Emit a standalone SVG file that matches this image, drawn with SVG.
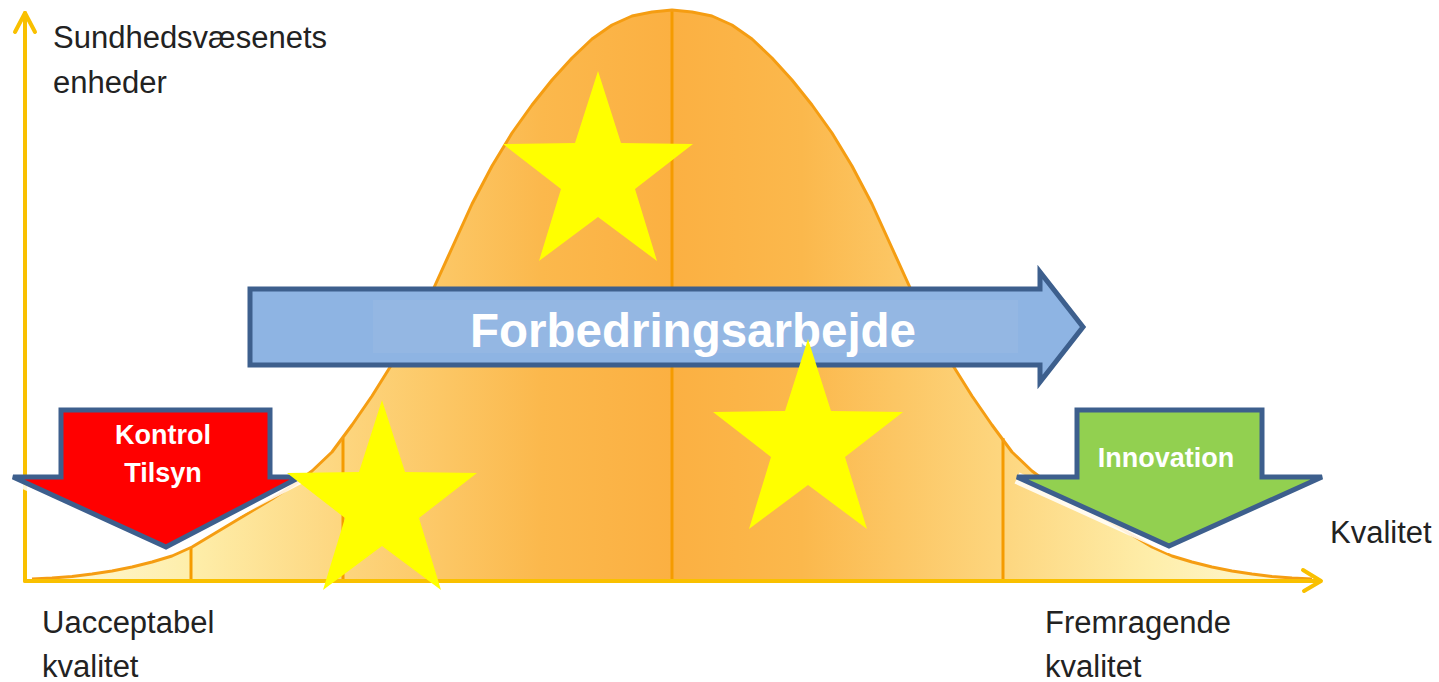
<svg xmlns="http://www.w3.org/2000/svg" width="1439" height="682" viewBox="0 0 1439 682">
  <style>
    .lbl { font-family: "Liberation Sans", Arial, sans-serif; font-size: 31px; fill: #222222; }
    .wlbl { font-family: "Liberation Sans", Arial, sans-serif; font-weight: bold; font-size: 27px; fill: #ffffff; text-anchor: middle; }
    .big { font-family: "Liberation Sans", Arial, sans-serif; font-weight: bold; font-size: 47.5px; fill: #ffffff; text-anchor: middle; }
    .axis { stroke: #f9c000; stroke-width: 4; fill: none; stroke-linecap: round; stroke-linejoin: round; }
    .div { stroke: #f59b00; stroke-width: 3; fill: none; }
    .curve { stroke: #f59d12; stroke-width: 3; fill: none; stroke-linejoin: round; }
    .arrowbox { stroke: #3d5f8d; stroke-width: 5; }
    .glow { fill: none; stroke: #ffffff; stroke-width: 12; stroke-linejoin: round; opacity: 0.85; }
    .star { fill: #ffff00; }
  </style>
  <defs>
    <linearGradient id="bellGrad" gradientUnits="userSpaceOnUse" x1="24" y1="0" x2="1320" y2="0">
      <stop offset="0" stop-color="#fffadc"/>
      <stop offset="0.129" stop-color="#feeeaa"/>
      <stop offset="0.25" stop-color="#fdd57d"/>
      <stop offset="0.4" stop-color="#fbb84c"/>
      <stop offset="0.5" stop-color="#fbb042"/>
      <stop offset="0.6" stop-color="#fbb84c"/>
      <stop offset="0.75" stop-color="#fdd57d"/>
      <stop offset="0.871" stop-color="#feeeaa"/>
      <stop offset="1" stop-color="#fffadc"/>
    </linearGradient>
    <polygon id="star" points="0,-105 23,-33 95,-32 37,13 59,85 0,41 -59,85 -37,13 -95,-32 -23,-33"/>
  </defs>

  <rect x="0" y="0" width="1439" height="682" fill="#ffffff"/>

  <g id="bell">
    <path fill="url(#bellGrad)" d="M32,581 L32,579 L52,578 L72,576.5 L92,574 L112,571 L132,567 L152,562 L172,556 L192,547 L212,535 L232,523 L252,511 L272,499 L292,486 L312,471 L332,452 L352,425 L372,396 L392,364 L412,330 L432,292 L452,248 L472,204 L492,166 L512,133 L532,105 L552,80 L572,58 L592,39 L612,25 L632,16 L652,12 L672,10 L692,12 L712,16 L732,25 L752,39 L772,58 L792,80 L812,105 L832,133 L852,166 L872,204 L892,248 L912,292 L932,330 L952,364 L972,396 L992,425 L1012,452 L1032,471 L1052,486 L1072,499 L1092,511 L1112,523 L1132,535 L1152,547 L1172,556 L1192,562 L1212,567 L1232,571 L1252,574 L1272,576.5 L1292,578 L1312,579 L1312,581 Z"/>
    <line class="div" x1="191" y1="547" x2="191" y2="581"/>
    <line class="div" x1="343" y1="438" x2="343" y2="581"/>
    <line class="div" x1="672" y1="10" x2="672" y2="581"/>
    <line class="div" x1="1003" y1="438" x2="1003" y2="581"/>
    <path class="curve" d="M32,579 L52,578 L72,576.5 L92,574 L112,571 L132,567 L152,562 L172,556 L192,547 L212,535 L232,523 L252,511 L272,499 L292,486 L312,471 L332,452 L352,425 L372,396 L392,364 L412,330 L432,292 L452,248 L472,204 L492,166 L512,133 L532,105 L552,80 L572,58 L592,39 L612,25 L632,16 L652,12 L672,10 L692,12 L712,16 L732,25 L752,39 L772,58 L792,80 L812,105 L832,133 L852,166 L872,204 L892,248 L912,292 L932,330 L952,364 L972,396 L992,425 L1012,452 L1032,471 L1052,486 L1072,499 L1092,511 L1112,523 L1132,535 L1152,547 L1172,556 L1192,562 L1212,567 L1232,571 L1252,574 L1272,576.5 L1292,578 L1312,579"/>
  </g>

  <g id="axes">
    <path class="axis" d="M25,581 L25,13"/>
    <path class="axis" d="M15,32 L25,13 L35,32"/>
    <path class="axis" d="M25,581 L1320,581"/>
    <path class="axis" d="M1303,570 L1321,581 L1304,591"/>
  </g>

  <g id="forbedringsarbejde">
    <path class="arrowbox" fill="#8eb4e3" d="M250,289 H1040 V272 L1083,327 L1040,382 V365 H250 Z"/>
    <rect x="373" y="300" width="645" height="53" fill="#a3c1e5" opacity="0.3"/>
    <text class="big" x="693" y="347">Forbedringsarbejde</text>
  </g>

  <g id="kontrol-tilsyn">
    <path class="glow" d="M300,478 L166,548 L13,478"/>
    <path class="arrowbox" fill="#ff0000" d="M61,410 H270 V477 H300 L166,547 L13,477 H61 Z"/>
    <text class="wlbl" x="163" y="444">Kontrol</text>
    <text class="wlbl" x="163" y="482">Tilsyn</text>
  </g>

  <g id="innovation">
    <path class="glow" d="M1322,478 L1169,547 L1017,478"/>
    <path class="arrowbox" fill="#92d050" d="M1077,410 H1262 V477 H1322 L1169,546 L1017,477 H1077 Z"/>
    <text class="wlbl" x="1166" y="467">Innovation</text>
  </g>

  <g id="stars">
    <use href="#star" class="star" x="598" y="176"/>
    <use href="#star" class="star" x="808" y="444"/>
    <use href="#star" class="star" x="382" y="505"/>
  </g>

  <g id="labels">
    <text class="lbl" x="53" y="48">Sundhedsvæsenets</text>
    <text class="lbl" x="53" y="93">enheder</text>
    <text class="lbl" x="42" y="633">Uacceptabel</text>
    <text class="lbl" x="42" y="677">kvalitet</text>
    <text class="lbl" x="1045" y="633">Fremragende</text>
    <text class="lbl" x="1045" y="677">kvalitet</text>
    <text class="lbl" x="1330" y="543">Kvalitet</text>
  </g>
</svg>
